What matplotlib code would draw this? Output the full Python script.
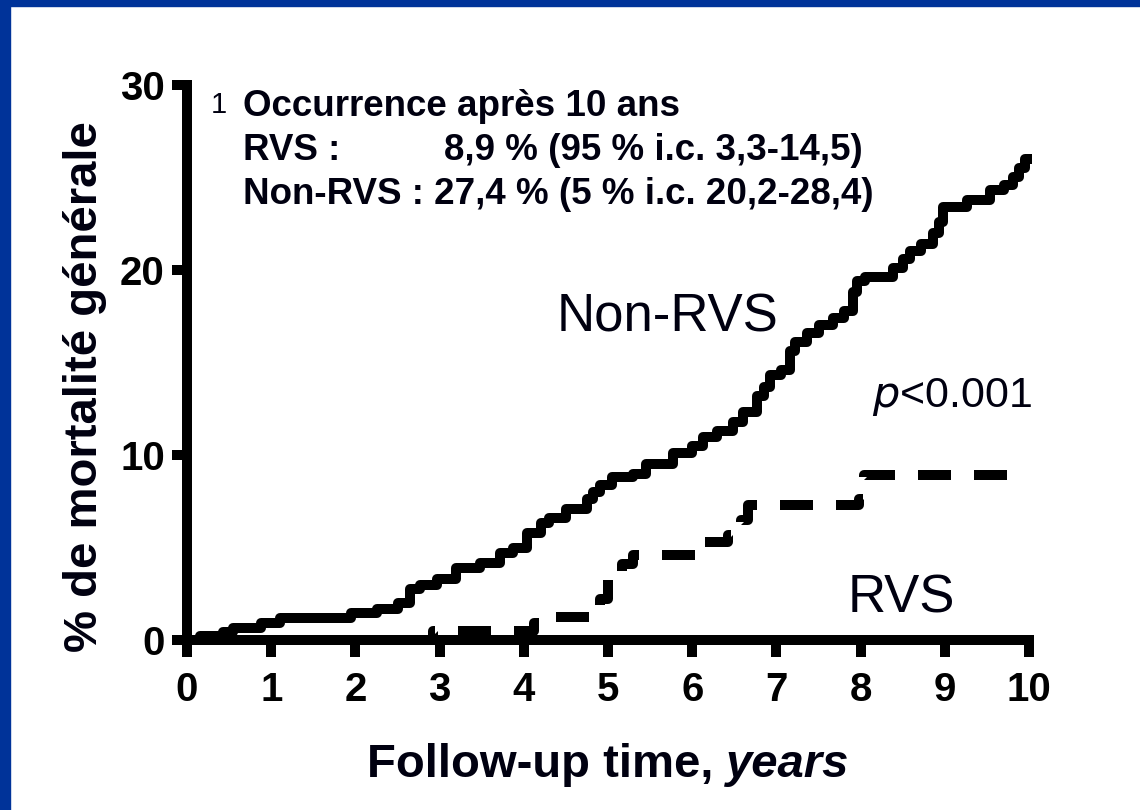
import matplotlib
matplotlib.use("Agg")
import matplotlib.pyplot as plt
from matplotlib.patches import Rectangle

plt.rcParams['font.family'] = ['Liberation Sans', 'DejaVu Sans']

# Kaplan-Meier style cumulative mortality (%)
nonrvs_t = [0, 0.15, 0.43, 0.55, 0.88, 1.1, 1.95, 2.26, 2.5, 2.65, 2.77, 2.97,
            3.2, 3.48, 3.72, 3.87, 4.04, 4.2, 4.3, 4.5, 4.75, 4.82, 4.9, 5.05,
            5.3, 5.45, 5.77, 6.0, 6.13, 6.3, 6.48, 6.6, 6.77, 6.85, 6.92, 7.05,
            7.16, 7.22, 7.36, 7.5, 7.67, 7.8, 7.91, 7.96, 8.05, 8.38, 8.5, 8.59,
            8.72, 8.86, 8.93, 8.98, 9.26, 9.54, 9.7, 9.81, 9.88, 9.95, 9.98]
nonrvs_y = [0, 0.2, 0.45, 0.66, 0.94, 1.2, 1.48, 1.7, 2.0, 2.75, 3.0, 3.3,
            3.9, 4.16, 4.7, 5.0, 5.8, 6.3, 6.6, 7.1, 7.6, 8.0, 8.4, 8.8,
            9.0, 9.5, 10.1, 10.5, 11.0, 11.3, 11.8, 12.3, 13.2, 13.7, 14.3, 14.6,
            15.6, 16.1, 16.6, 17.0, 17.4, 17.8, 18.8, 19.4, 19.6, 20.1, 20.6, 21.0,
            21.4, 22.0, 22.6, 23.4, 23.8, 24.3, 24.6, 25.0, 25.5, 26.0, 26.0]

rvs_t = [0, 2.92, 4.12, 4.3, 4.9, 5.0, 5.17, 5.3, 6.1, 6.42, 6.58, 6.66,
         7.98, 8.04, 9.75]
rvs_y = [0, 0.5, 0.9, 1.25, 2.2, 3.3, 4.1, 4.6, 5.3, 5.7, 6.5, 7.3,
         7.6, 8.9, 8.9]

x_ticks = list(range(0, 11))
y_ticks = [0, 10, 20, 30]

ink = '#000010'
W, H = 1140, 810

fig = plt.figure(figsize=(11.4, 8.1), dpi=100)
fig.patch.set_facecolor('white')

# blue slide frame (left and top)
fig.patches.append(Rectangle((0, 0), 10 / W, 1, transform=fig.transFigure,
                             color='#003399', zorder=0))
fig.patches.append(Rectangle((0, 1 - 6 / H), 1, 6 / H, transform=fig.transFigure,
                             color='#003399', zorder=0))

ax = fig.add_axes([187 / W, 1 - 640 / H, 842 / W, 555 / H])
ax.set_xlim(0, 10)
ax.set_ylim(0, 30)

ax.step(nonrvs_t, nonrvs_y, where='post', color='black', lw=7.2,
        solid_joinstyle='round', clip_on=False, zorder=3)
ax.step(rvs_t, rvs_y, where='post', color='black', lw=7.2,
        linestyle=(0, (3.3, 2.3)), dash_capstyle='butt', clip_on=False, zorder=3)

for side in ['top', 'right']:
    ax.spines[side].set_visible(False)
for side in ['left', 'bottom']:
    ax.spines[side].set_linewidth(7.2)
    ax.spines[side].set_capstyle('projecting')

ax.set_xticks(x_ticks)
ax.set_yticks(y_ticks)
ax.tick_params(axis='both', direction='out', width=7.2, labelsize=29,
               colors='black')
ax.tick_params(axis='x', length=12, pad=10)
ax.tick_params(axis='y', length=11, pad=5)
for lab in ax.get_xticklabels() + ax.get_yticklabels():
    lab.set_fontweight('bold')

fig.text(85 / W, 1 - 387 / H, '% de mortalité générale', rotation=90,
         ha='center', va='center', fontsize=34, fontweight='bold', color=ink)

# annotation block
ax.text(0.285, 28.49, '1', fontsize=21, color=ink, va='baseline', clip_on=False)
ax.text(0.665, 28.32, 'Occurrence après 10 ans', fontsize=26.5, fontweight='bold',
        color=ink, va='baseline')
ax.text(0.665, 25.95, 'RVS :', fontsize=26.5, fontweight='bold', color=ink,
        va='baseline')
ax.text(3.05, 25.95, '8,9 % (95 % i.c. 3,3-14,5)', fontsize=26.5, fontweight='bold',
        color=ink, va='baseline')
ax.text(0.665, 23.57, 'Non-RVS : 27,4 % (5 % i.c. 20,2-28,4)', fontsize=26.5,
        fontweight='bold', color=ink, va='baseline')

ax.text(4.39, 16.7, 'Non-RVS', fontsize=38, color=ink, va='baseline')
ax.text(7.85, 1.51, 'RVS', fontsize=38, color=ink, va='baseline')
ax.text(8.14, 12.6, r'$\mathit{p}$<0.001', fontsize=31, color=ink, va='baseline')

# x label: bold part + italic "years", centred as a whole
r = fig.canvas.get_renderer()
xl1 = fig.text(0, 1 - 777 / H, 'Follow-up time, ', ha='left', va='baseline',
               fontsize=34, fontweight='bold', color=ink)
xl2 = fig.text(0, 1 - 777 / H, 'years', ha='left', va='baseline',
               fontsize=34, fontweight='bold', fontstyle='italic', color=ink)
w1 = xl1.get_window_extent(r).width
w2 = xl2.get_window_extent(r).width
x0 = 608 - (w1 + w2) / 2
xl1.set_x(x0 / W)
xl2.set_x((x0 + w1) / W)

fig.savefig('out.png', dpi=100, facecolor='white')
